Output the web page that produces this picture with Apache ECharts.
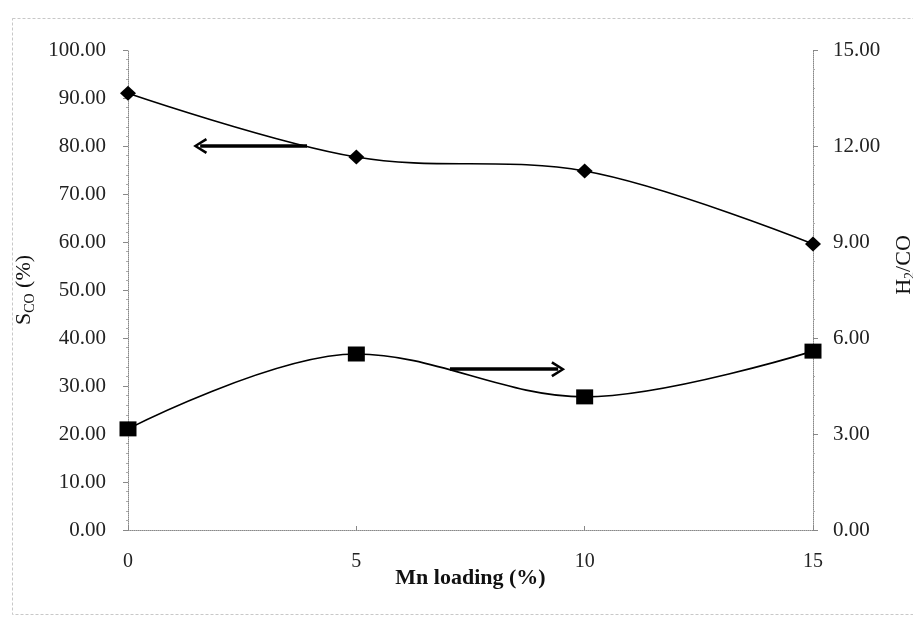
<!DOCTYPE html>
<html>
<head>
<meta charset="utf-8">
<script src="https://cdn.jsdelivr.net/npm/echarts@6/dist/echarts.min.js"></script>
<style>html,body{margin:0;padding:0;background:#fff;overflow:hidden;}#c{width:913px;height:620px;}</style>
</head>
<body>
<div id="c"></div>
<script>
var mnLoading = [0, 5, 10, 15];
var sCO = [91.0, 77.7, 74.8, 59.6];
var h2CO = [3.16, 5.50, 4.16, 5.59];
var leftTicks = {min: 0, max: 100, interval: 10};
var rightTicks = {min: 0, max: 15, interval: 3};
var arrowLeft = [[3.92, 80], [1.58, 80]];
var arrowRight = [[7.05, 33.5], [9.42, 33.5]];

var serif = 'Liberation Serif';
var chevron = 'path://M5,0 L10,9 L8.6,10 L5,3.2 L1.4,10 L0,9 Z';

var chart = echarts.init(document.getElementById('c'), null, {renderer: 'canvas', width: 913, height: 620});
chart.setOption({
  backgroundColor: '#fff',
  animation: false,
  graphic: [{
    type: 'rect', left: 10, top: 16,
    shape: {width: 910, height: 596},
    style: {fill: 'none', stroke: '#c8c8c8', lineWidth: 1, lineDash: [3, 2]},
    silent: true
  }],
  grid: {left: 128, right: 100, top: 50, bottom: 90, containLabel: false, outerBoundsMode: 'none'},
  xAxis: {
    type: 'value', min: 0, max: 15, interval: 5,
    name: 'Mn loading (%)', nameLocation: 'middle', nameGap: 37, nameMoveOverlap: false,
    nameTextStyle: {fontFamily: serif, fontSize: 22, fontWeight: 'bold', color: '#111'},
    axisLine: {lineStyle: {color: '#888', type: 'dotted', width: 1}},
    axisTick: {inside: true, length: 4, lineStyle: {color: '#888'}},
    axisLabel: {fontFamily: serif, fontSize: 20, color: '#222', margin: 22},
    splitLine: {show: false}
  },
  yAxis: [{
    type: 'value', position: 'left',
    min: leftTicks.min, max: leftTicks.max, interval: leftTicks.interval,
    name: '{a|S}{b|CO}{a| (%)}', nameLocation: 'middle', nameGap: 88, nameRotate: 90,
    nameTextStyle: {
      rich: {
        a: {fontFamily: serif, fontSize: 22, color: '#111'},
        b: {fontFamily: serif, fontSize: 14, color: '#111', verticalAlign: 'bottom', padding: [12, 0, 0, 0]}
      }
    },
    axisLine: {show: true, lineStyle: {color: '#888', type: 'dotted', width: 1}},
    axisTick: {show: true, length: 5, lineStyle: {color: '#888'}},
    minorTick: {show: true, splitNumber: 5, length: 2, lineStyle: {color: '#aaa'}},
    axisLabel: {fontFamily: serif, fontSize: 21, color: '#222', margin: 22,
      formatter: function (v) { return v.toFixed(2); }},
    splitLine: {show: false}
  }, {
    type: 'value', position: 'right',
    min: rightTicks.min, max: rightTicks.max, interval: rightTicks.interval,
    name: '{a|H}{b|2}{a|/CO}', nameLocation: 'middle', nameGap: 78, nameRotate: 90,
    nameTextStyle: {
      padding: [0, 0, 0, 50],
      rich: {
        a: {fontFamily: serif, fontSize: 22, color: '#111'},
        b: {fontFamily: serif, fontSize: 14, color: '#111', verticalAlign: 'bottom', padding: [12, 0, 0, 0]}
      }
    },
    axisLine: {show: true, lineStyle: {color: '#888', type: 'dotted', width: 1}},
    axisTick: {show: true, length: 5, lineStyle: {color: '#888'}},
    minorTick: {show: true, splitNumber: 5, length: 2, lineStyle: {color: '#aaa'}},
    axisLabel: {fontFamily: serif, fontSize: 21, color: '#222', margin: 20,
      formatter: function (v) { return v.toFixed(2); }},
    splitLine: {show: false}
  }],
  series: [{
    name: 'SCO', type: 'line', yAxisIndex: 0,
    data: mnLoading.map(function (x, i) { return [x, sCO[i]]; }),
    smooth: 0.35,
    symbol: 'diamond', symbolSize: [16, 15],
    itemStyle: {color: '#000'},
    lineStyle: {color: '#000', width: 1.6},
    z: 3,
    markLine: {
      silent: true, animation: false,
      symbol: ['none', chevron], symbolSize: [16, 14],
      label: {show: false},
      lineStyle: {color: '#000', width: 3.5, type: 'solid'},
      data: [[{coord: arrowLeft[0]}, {coord: arrowLeft[1]}]]
    }
  }, {
    name: 'H2CO', type: 'line', yAxisIndex: 1,
    data: mnLoading.map(function (x, i) { return [x, h2CO[i]]; }),
    smooth: 0.35,
    symbol: 'rect', symbolSize: [17, 15],
    itemStyle: {color: '#000'},
    lineStyle: {color: '#000', width: 1.6},
    z: 3
  }, {
    name: 'arrow2', type: 'line', yAxisIndex: 0, data: [],
    markLine: {
      silent: true, animation: false,
      symbol: ['none', chevron], symbolSize: [16, 14],
      label: {show: false},
      lineStyle: {color: '#000', width: 3.5, type: 'solid'},
      data: [[{coord: arrowRight[0]}, {coord: arrowRight[1]}]]
    }
  }]
});
</script>
</body>
</html>
